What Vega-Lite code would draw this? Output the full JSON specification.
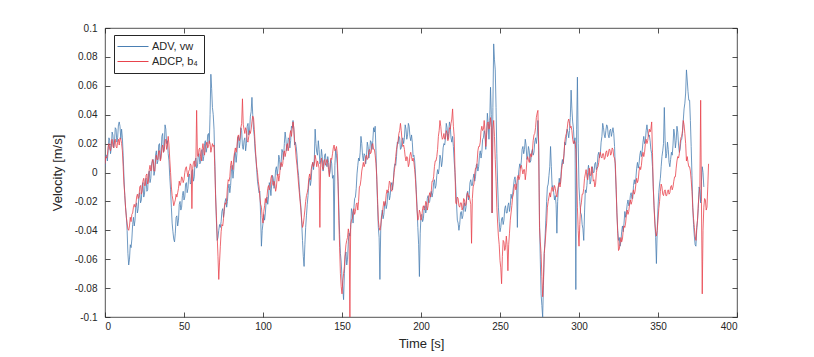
{
  "$schema": "https://vega.github.io/schema/vega-lite/v6.json",
  "autosize": "none",
  "padding": {"left": 105, "top": 28, "right": 77, "bottom": 40},
  "width": 632,
  "height": 289,
  "background": "white",
  "config": {
    "view": {"stroke": "#262626", "strokeWidth": 0.8},
    "font": "Liberation Sans",
    "axis": {
      "grid": false,
      "domain": false,
      "tickColor": "#262626",
      "tickSize": -5,
      "tickWidth": 0.8,
      "labelColor": "#262626",
      "labelFontSize": 10,
      "labelFont": "Liberation Sans",
      "titleColor": "#262626",
      "titleFontSize": 13,
      "titleFont": "Liberation Sans",
      "titleFontWeight": "normal"
    }
  },
  "data": {"values": [
{"t":0,"a":0.004,"b":0.006},{"t":1,"a":0.012,"b":0.010},{"t":2,"a":0.015,"b":0.018},{"t":3,"a":0.022,"b":0.016},{"t":4,"a":0.017,"b":0.020},{"t":5,"a":0.026,"b":0.018},{"t":6,"a":0.021,"b":0.022},{"t":7,"a":0.030,"b":0.018},{"t":8,"a":0.024,"b":0.021},{"t":9,"a":0.035,"b":0.019},
{"t":10,"a":0.023,"b":0.023},{"t":11,"a":0.024,"b":0.015},{"t":12,"a":-0.003,"b":-0.008},{"t":13,"a":-0.024,"b":-0.024},{"t":14,"a":-0.040,"b":-0.035},{"t":15,"a":-0.064,"b":-0.040},{"t":16,"a":-0.050,"b":-0.031},{"t":17,"a":-0.046,"b":-0.029},{"t":18,"a":-0.031,"b":-0.024},{"t":19,"a":-0.033,"b":-0.024},
{"t":20,"a":-0.021,"b":-0.017},{"t":21,"a":-0.025,"b":-0.018},{"t":22,"a":-0.014,"b":-0.010},{"t":23,"a":-0.019,"b":-0.015},{"t":24,"a":-0.007,"b":-0.006},{"t":25,"a":-0.015,"b":-0.009},{"t":26,"a":-0.004,"b":-0.002},{"t":27,"a":-0.012,"b":-0.008},{"t":28,"a":0.001,"b":0.002},{"t":29,"a":-0.004,"b":0.001},
{"t":30,"a":0.008,"b":0.009},{"t":31,"a":-0.002,"b":0.001},{"t":32,"a":0.012,"b":0.008},{"t":33,"a":0.006,"b":0.009},{"t":34,"a":0.019,"b":0.015},{"t":35,"a":0.009,"b":0.008},{"t":36,"a":0.025,"b":0.017},{"t":37,"a":0.014,"b":0.014},{"t":38,"a":0.033,"b":0.022},{"t":39,"a":0.020,"b":0.016},
{"t":40,"a":0.013,"b":0.025},{"t":41,"a":-0.003,"b":0.009},{"t":42,"a":-0.024,"b":-0.010},{"t":43,"a":-0.041,"b":-0.019},{"t":44,"a":-0.048,"b":-0.021},{"t":45,"a":-0.031,"b":-0.015},{"t":46,"a":-0.037,"b":-0.014},{"t":47,"a":-0.022,"b":-0.006},{"t":48,"a":-0.026,"b":-0.007},{"t":49,"a":-0.016,"b":-0.004},
{"t":50,"a":-0.019,"b":-0.005},{"t":51,"a":-0.008,"b":0.003},{"t":52,"a":-0.014,"b":0.000},{"t":53,"a":-0.002,"b":0.001},{"t":54,"a":-0.008,"b":0.006},{"t":55,"a":0.001,"b":-0.025},{"t":56,"a":-0.006,"b":0.007},{"t":57,"a":0.008,"b":0.004},{"t":58,"a":0.003,"b":0.043},{"t":59,"a":0.012,"b":0.011},
{"t":60,"a":0.006,"b":0.017},{"t":61,"a":0.015,"b":0.008},{"t":62,"a":0.008,"b":0.020},{"t":63,"a":0.020,"b":0.012},{"t":64,"a":0.014,"b":0.019},{"t":65,"a":0.026,"b":0.017},{"t":66,"a":0.020,"b":0.022},{"t":67,"a":0.068,"b":0.014},{"t":68,"a":0.045,"b":0.020},{"t":69,"a":0.030,"b":0.019},
{"t":70,"a":-0.015,"b":-0.017},{"t":71,"a":-0.047,"b":-0.044},{"t":72,"a":-0.040,"b":-0.074},{"t":73,"a":-0.038,"b":-0.051},{"t":74,"a":-0.027,"b":-0.036},{"t":75,"a":-0.031,"b":-0.032},{"t":76,"a":-0.020,"b":-0.021},{"t":77,"a":-0.024,"b":-0.019},{"t":78,"a":-0.011,"b":-0.005},{"t":79,"a":-0.014,"b":-0.003},
{"t":80,"a":0.001,"b":0.008},{"t":81,"a":-0.004,"b":0.002},{"t":82,"a":0.013,"b":0.014},{"t":83,"a":0.007,"b":0.014},{"t":84,"a":0.024,"b":0.025},{"t":85,"a":0.017,"b":0.022},{"t":86,"a":0.031,"b":0.031},{"t":87,"a":0.018,"b":0.051},{"t":88,"a":0.022,"b":0.030},{"t":89,"a":0.015,"b":0.031},
{"t":90,"a":0.032,"b":0.022},{"t":91,"a":0.026,"b":0.025},{"t":92,"a":0.039,"b":0.027},{"t":93,"a":0.052,"b":0.035},{"t":94,"a":0.030,"b":0.038},{"t":95,"a":0.015,"b":0.020},{"t":96,"a":0.002,"b":0.004},{"t":97,"a":-0.010,"b":-0.006},{"t":98,"a":-0.013,"b":-0.017},{"t":99,"a":-0.051,"b":-0.024},
{"t":100,"a":-0.035,"b":-0.035},{"t":101,"a":-0.033,"b":-0.023},{"t":102,"a":-0.020,"b":-0.021},{"t":103,"a":-0.022,"b":-0.011},{"t":104,"a":-0.007,"b":-0.012},{"t":105,"a":-0.016,"b":-0.004},{"t":106,"a":-0.002,"b":-0.007},{"t":107,"a":-0.011,"b":-0.006},{"t":108,"a":0.002,"b":-0.013},{"t":109,"a":-0.002,"b":-0.003},
{"t":110,"a":0.012,"b":-0.006},{"t":111,"a":0.002,"b":0.005},{"t":112,"a":0.016,"b":0.004},{"t":113,"a":0.009,"b":0.013},{"t":114,"a":0.028,"b":0.011},{"t":115,"a":0.015,"b":0.019},{"t":116,"a":0.024,"b":0.015},{"t":117,"a":0.017,"b":0.026},{"t":118,"a":0.032,"b":0.025},{"t":119,"a":0.036,"b":0.035},
{"t":120,"a":0.019,"b":0.022},{"t":121,"a":0.018,"b":0.010},{"t":122,"a":0.003,"b":-0.001},{"t":123,"a":-0.010,"b":-0.014},{"t":124,"a":-0.024,"b":-0.026},{"t":125,"a":-0.047,"b":-0.038},{"t":126,"a":-0.065,"b":-0.031},{"t":127,"a":-0.038,"b":-0.020},{"t":128,"a":-0.022,"b":-0.014},{"t":129,"a":-0.007,"b":-0.004},
{"t":130,"a":-0.009,"b":-0.005},{"t":131,"a":0.004,"b":0.005},{"t":132,"a":0.002,"b":0.004},{"t":133,"a":0.030,"b":0.012},{"t":134,"a":0.014,"b":0.004},{"t":135,"a":0.022,"b":0.006},{"t":136,"a":0.006,"b":-0.038},{"t":137,"a":0.016,"b":0.010},{"t":138,"a":0.001,"b":0.002},{"t":139,"a":0.012,"b":0.009},
{"t":140,"a":0.006,"b":0.007},{"t":141,"a":0.011,"b":0.006},{"t":142,"a":-0.002,"b":-0.003},{"t":143,"a":0.009,"b":0.010},{"t":144,"a":-0.004,"b":0.013},{"t":145,"a":-0.047,"b":0.019},{"t":146,"a":0.016,"b":0.016},{"t":147,"a":0.006,"b":0.013},{"t":148,"a":-0.024,"b":-0.033},{"t":149,"a":-0.056,"b":-0.070},
{"t":150,"a":-0.073,"b":-0.084},{"t":151,"a":-0.088,"b":-0.070},{"t":152,"a":-0.058,"b":-0.056},{"t":153,"a":-0.064,"b":-0.047},{"t":154,"a":-0.048,"b":-0.039},{"t":155,"a":-0.044,"b":-0.100},{"t":156,"a":-0.025,"b":-0.033},{"t":157,"a":-0.035,"b":-0.028},{"t":158,"a":-0.018,"b":-0.029},{"t":159,"a":-0.011,"b":-0.022},
{"t":160,"a":0.005,"b":-0.026},{"t":161,"a":0.008,"b":-0.010},{"t":162,"a":0.025,"b":-0.005},{"t":163,"a":0.012,"b":0.004},{"t":164,"a":0.013,"b":0.004},{"t":165,"a":0.006,"b":0.011},{"t":166,"a":0.021,"b":0.009},{"t":167,"a":0.010,"b":0.015},{"t":168,"a":0.022,"b":0.013},{"t":169,"a":0.016,"b":0.019},
{"t":170,"a":0.031,"b":0.016},{"t":171,"a":0.032,"b":0.012},{"t":172,"a":-0.005,"b":-0.003},{"t":173,"a":-0.038,"b":-0.033},{"t":174,"a":-0.074,"b":-0.040},{"t":175,"a":-0.030,"b":-0.031},{"t":176,"a":-0.032,"b":-0.024},{"t":177,"a":-0.022,"b":-0.023},{"t":178,"a":-0.025,"b":-0.015},{"t":179,"a":-0.014,"b":-0.014},
{"t":180,"a":-0.019,"b":-0.006},{"t":181,"a":-0.009,"b":-0.012},{"t":182,"a":-0.012,"b":-0.010},{"t":183,"a":0.003,"b":0.000},{"t":184,"a":0.005,"b":0.011},{"t":185,"a":0.021,"b":0.019},{"t":186,"a":0.025,"b":0.027},{"t":187,"a":0.016,"b":0.034},{"t":188,"a":0.022,"b":0.022},{"t":189,"a":0.020,"b":0.019},
{"t":190,"a":0.033,"b":0.011},{"t":191,"a":0.023,"b":0.011},{"t":192,"a":0.034,"b":0.004},{"t":193,"a":0.025,"b":0.012},{"t":194,"a":0.026,"b":0.011},{"t":195,"a":0.011,"b":0.010},{"t":196,"a":0.008,"b":0.002},{"t":197,"a":-0.012,"b":-0.015},{"t":198,"a":-0.038,"b":-0.033},{"t":199,"a":-0.072,"b":-0.026},
{"t":200,"a":-0.030,"b":-0.033},{"t":201,"a":-0.034,"b":-0.025},{"t":202,"a":-0.025,"b":-0.026},{"t":203,"a":-0.028,"b":-0.020},{"t":204,"a":-0.018,"b":-0.026},{"t":205,"a":-0.021,"b":-0.017},{"t":206,"a":-0.016,"b":-0.017},{"t":207,"a":-0.017,"b":-0.006},{"t":208,"a":-0.007,"b":-0.003},{"t":209,"a":-0.011,"b":0.008},
{"t":210,"a":-0.002,"b":0.011},{"t":211,"a":-0.001,"b":0.025},{"t":212,"a":0.012,"b":0.036},{"t":213,"a":0.004,"b":0.026},{"t":214,"a":0.017,"b":0.024},{"t":215,"a":0.019,"b":0.023},{"t":216,"a":0.034,"b":0.029},{"t":217,"a":0.023,"b":0.022},{"t":218,"a":0.035,"b":0.031},{"t":219,"a":0.024,"b":0.034},
{"t":220,"a":0.025,"b":0.044},{"t":221,"a":0.008,"b":0.025},{"t":222,"a":-0.010,"b":-0.021},{"t":223,"a":-0.033,"b":-0.017},{"t":224,"a":-0.040,"b":-0.023},{"t":225,"a":-0.028,"b":-0.021},{"t":226,"a":-0.032,"b":-0.026},{"t":227,"a":-0.023,"b":-0.018},{"t":228,"a":-0.027,"b":-0.023},{"t":229,"a":-0.015,"b":-0.016},
{"t":230,"a":-0.019,"b":-0.017},{"t":231,"a":-0.007,"b":-0.019},{"t":232,"a":-0.009,"b":-0.049},{"t":233,"a":-0.004,"b":-0.010},{"t":234,"a":-0.006,"b":-0.001},{"t":235,"a":0.005,"b":0.003},{"t":236,"a":0.001,"b":0.015},{"t":237,"a":0.012,"b":0.018},{"t":238,"a":0.010,"b":0.029},{"t":239,"a":0.023,"b":0.029},
{"t":240,"a":0.029,"b":0.036},{"t":241,"a":0.016,"b":0.018},{"t":242,"a":0.041,"b":0.034},{"t":243,"a":0.023,"b":0.030},{"t":244,"a":0.059,"b":0.038},{"t":245,"a":-0.028,"b":-0.028},{"t":246,"a":0.089,"b":0.036},{"t":247,"a":0.071,"b":0.009},{"t":248,"a":0.013,"b":-0.024},{"t":249,"a":-0.024,"b":-0.044},
{"t":250,"a":-0.041,"b":-0.061},{"t":251,"a":-0.032,"b":-0.077},{"t":252,"a":-0.036,"b":-0.047},{"t":253,"a":-0.025,"b":-0.054},{"t":254,"a":-0.028,"b":-0.044},{"t":255,"a":-0.023,"b":-0.068},{"t":256,"a":-0.027,"b":-0.042},{"t":257,"a":-0.015,"b":-0.028},{"t":258,"a":-0.015,"b":-0.017},{"t":259,"a":-0.005,"b":-0.010},
{"t":260,"a":-0.008,"b":-0.012},{"t":261,"a":-0.038,"b":-0.004},{"t":262,"a":0.002,"b":-0.005},{"t":263,"a":0.003,"b":0.004},{"t":264,"a":0.016,"b":0.002},{"t":265,"a":0.013,"b":0.002},{"t":266,"a":0.023,"b":-0.005},{"t":267,"a":0.009,"b":0.008},{"t":268,"a":0.018,"b":0.009},{"t":269,"a":0.007,"b":0.010},
{"t":270,"a":0.014,"b":0.011},{"t":271,"a":0.012,"b":0.022},{"t":272,"a":0.021,"b":0.027},{"t":273,"a":0.020,"b":0.038},{"t":274,"a":0.036,"b":0.043},{"t":275,"a":-0.033,"b":-0.038},{"t":276,"a":-0.084,"b":-0.056},{"t":277,"a":-0.100,"b":-0.086},{"t":278,"a":-0.056,"b":-0.056},{"t":279,"a":-0.033,"b":-0.042},
{"t":280,"a":-0.010,"b":-0.024},{"t":281,"a":-0.002,"b":-0.017},{"t":282,"a":0.018,"b":-0.017},{"t":283,"a":-0.010,"b":-0.010},{"t":284,"a":-0.014,"b":-0.012},{"t":285,"a":-0.016,"b":-0.011},{"t":286,"a":-0.042,"b":-0.017},{"t":287,"a":-0.010,"b":-0.009},{"t":288,"a":-0.008,"b":-0.010},{"t":289,"a":0.005,"b":0.002},
{"t":290,"a":0.006,"b":0.007},{"t":291,"a":0.021,"b":0.021},{"t":292,"a":0.024,"b":0.027},{"t":293,"a":0.028,"b":0.035},{"t":294,"a":0.029,"b":0.034},{"t":295,"a":0.057,"b":0.032},{"t":296,"a":0.035,"b":0.023},{"t":297,"a":0.020,"b":0.022},{"t":298,"a":-0.081,"b":0.016},{"t":299,"a":0.066,"b":-0.024},
{"t":300,"a":-0.010,"b":-0.051},{"t":301,"a":-0.028,"b":-0.024},{"t":302,"a":-0.036,"b":-0.015},{"t":303,"a":-0.047,"b":-0.011},{"t":304,"a":-0.012,"b":-0.001},{"t":305,"a":-0.009,"b":-0.003},{"t":306,"a":0.005,"b":-0.001},{"t":307,"a":-0.008,"b":-0.002},{"t":308,"a":0.001,"b":0.004},{"t":309,"a":0.000,"b":-0.006},
{"t":310,"a":0.006,"b":-0.010},{"t":311,"a":0.002,"b":0.000},{"t":312,"a":0.012,"b":0.004},{"t":313,"a":0.010,"b":0.012},{"t":314,"a":0.021,"b":0.011},{"t":315,"a":0.034,"b":0.013},{"t":316,"a":0.026,"b":0.009},{"t":317,"a":0.029,"b":0.014},{"t":318,"a":0.032,"b":0.011},{"t":319,"a":0.024,"b":0.016},
{"t":320,"a":0.030,"b":0.012},{"t":321,"a":0.028,"b":0.017},{"t":322,"a":0.027,"b":0.011},{"t":323,"a":0.002,"b":0.006},{"t":324,"a":-0.028,"b":-0.028},{"t":325,"a":-0.047,"b":-0.054},{"t":326,"a":-0.051,"b":-0.049},{"t":327,"a":-0.041,"b":-0.048},{"t":328,"a":-0.041,"b":-0.040},{"t":329,"a":-0.027,"b":-0.038},
{"t":330,"a":-0.027,"b":-0.029},{"t":331,"a":-0.019,"b":-0.029},{"t":332,"a":-0.022,"b":-0.022},{"t":333,"a":-0.014,"b":-0.022},{"t":334,"a":-0.018,"b":-0.015},{"t":335,"a":-0.005,"b":-0.015},{"t":336,"a":-0.004,"b":-0.008},{"t":337,"a":0.007,"b":-0.007},{"t":338,"a":0.006,"b":0.001},{"t":339,"a":0.015,"b":0.002},
{"t":340,"a":0.015,"b":0.011},{"t":341,"a":0.025,"b":0.011},{"t":342,"a":0.022,"b":0.020},{"t":343,"a":0.033,"b":0.020},{"t":344,"a":0.025,"b":0.027},{"t":345,"a":0.022,"b":0.028},{"t":346,"a":0.013,"b":0.035},{"t":347,"a":-0.010,"b":-0.010},{"t":348,"a":-0.033,"b":-0.035},{"t":349,"a":-0.063,"b":-0.044},
{"t":350,"a":-0.024,"b":-0.033},{"t":351,"a":-0.008,"b":-0.020},{"t":352,"a":0.004,"b":-0.008},{"t":353,"a":0.015,"b":-0.015},{"t":354,"a":0.045,"b":-0.013},{"t":355,"a":0.010,"b":-0.016},{"t":356,"a":0.021,"b":-0.013},{"t":357,"a":0.007,"b":-0.015},{"t":358,"a":0.009,"b":-0.010},{"t":359,"a":0.012,"b":-0.012},
{"t":360,"a":0.030,"b":-0.006},{"t":361,"a":0.017,"b":-0.003},{"t":362,"a":0.032,"b":0.008},{"t":363,"a":0.019,"b":0.010},{"t":364,"a":0.016,"b":0.020},{"t":365,"a":0.023,"b":0.025},{"t":366,"a":0.036,"b":0.036},{"t":367,"a":0.048,"b":0.027},{"t":368,"a":0.071,"b":0.008},{"t":369,"a":0.056,"b":0.007},
{"t":370,"a":0.050,"b":0.004},{"t":371,"a":0.018,"b":-0.005},{"t":372,"a":-0.024,"b":-0.024},{"t":373,"a":-0.044,"b":-0.038},{"t":374,"a":-0.051,"b":-0.047},{"t":375,"a":-0.033,"b":-0.033},{"t":376,"a":-0.010,"b":-0.015},{"t":377,"a":-0.021,"b":0.050},{"t":378,"a":0.004,"b":-0.084},{"t":379,"a":-0.010,"b":-0.024},
{"t":380,"b":-0.019},{"t":381,"b":-0.024},{"t":382,"b":0.006},
{"t":0.5,"a":0.012,"b":0.011},{"t":1.5,"a":0.008,"b":0.012},{"t":2.5,"a":0.024,"b":0.020},{"t":3.5,"a":0.013,"b":0.015},{"t":4.5,"a":0.028,"b":0.023},{"t":5.5,"a":0.017,"b":0.017},{"t":6.5,"a":0.031,"b":0.023},{"t":7.5,"a":0.021,"b":0.017},{"t":8.5,"a":0.033,"b":0.023},{"t":9.5,"a":0.032,"b":0.024},
{"t":10.5,"a":0.030,"b":0.020},{"t":11.5,"a":0.012,"b":0.004},{"t":12.5,"a":-0.016,"b":-0.015},{"t":13.5,"a":-0.030,"b":-0.031},{"t":14.5,"a":-0.056,"b":-0.039},{"t":15.5,"a":-0.060,"b":-0.037},{"t":16.5,"a":-0.052,"b":-0.034},{"t":17.5,"a":-0.036,"b":-0.028},{"t":18.5,"a":-0.037,"b":-0.022},{"t":19.5,"a":-0.023,"b":-0.023},
{"t":20.5,"a":-0.028,"b":-0.015},{"t":21.5,"a":-0.015,"b":-0.017},{"t":22.5,"a":-0.021,"b":-0.009},{"t":23.5,"a":-0.009,"b":-0.013},{"t":24.5,"a":-0.017,"b":-0.004},{"t":25.5,"a":-0.005,"b":-0.009},{"t":26.5,"a":-0.013,"b":-0.001},{"t":27.5,"a":-0.001,"b":-0.006},{"t":28.5,"a":-0.007,"b":0.005},{"t":29.5,"a":0.006,"b":0.002},
{"t":30.5,"a":0.009,"b":0.008},{"t":31.5,"a":0.001,"b":0.001},{"t":32.5,"a":0.015,"b":0.012},{"t":33.5,"a":0.008,"b":0.009},{"t":34.5,"a":0.020,"b":0.015},{"t":35.5,"a":0.013,"b":0.010},{"t":36.5,"a":0.027,"b":0.019},{"t":37.5,"a":0.018,"b":0.015},{"t":38.5,"a":0.030,"b":0.023},{"t":39.5,"a":0.022,"b":0.019},
{"t":40.5,"a":0.008,"b":0.019},{"t":41.5,"a":-0.012,"b":0.000},{"t":42.5,"a":-0.035,"b":-0.016},{"t":43.5,"a":-0.046,"b":-0.023},{"t":44.5,"a":-0.042,"b":-0.019},{"t":45.5,"a":-0.030,"b":-0.017},{"t":46.5,"a":-0.033,"b":-0.011},{"t":47.5,"a":-0.020,"b":-0.009},{"t":48.5,"a":-0.024,"b":-0.003},{"t":49.5,"a":-0.013,"b":-0.007},
{"t":50.5,"a":-0.017,"b":0.000},{"t":51.5,"a":-0.007,"b":0.004},{"t":52.5,"a":-0.011,"b":-0.003},{"t":53.5,"a":-0.001,"b":0.002},{"t":54.5,"a":-0.007,"b":0.005},{"t":55.5,"a":0.002,"b":0.003},{"t":56.5,"a":-0.003,"b":0.008},{"t":57.5,"a":0.010,"b":0.006},{"t":58.5,"a":0.004,"b":0.012},{"t":59.5,"a":0.013,"b":0.016},
{"t":60.5,"a":0.007,"b":0.011},{"t":61.5,"a":0.016,"b":0.016},{"t":62.5,"a":0.011,"b":0.015},{"t":63.5,"a":0.022,"b":0.018},{"t":64.5,"a":0.017,"b":0.021},{"t":65.5,"a":0.027,"b":0.018},{"t":66.5,"a":0.040,"b":0.020},{"t":67.5,"a":0.058,"b":0.017},{"t":68.5,"a":0.040,"b":0.018},{"t":69.5,"a":0.008,"b":0.004},
{"t":70.5,"a":-0.033,"b":-0.030},{"t":71.5,"a":-0.045,"b":-0.058},{"t":72.5,"a":-0.036,"b":-0.062},{"t":73.5,"a":-0.034,"b":-0.041},{"t":74.5,"a":-0.025,"b":-0.037},{"t":75.5,"a":-0.027,"b":-0.024},{"t":76.5,"a":-0.018,"b":-0.022},{"t":77.5,"a":-0.020,"b":-0.010},{"t":78.5,"a":-0.008,"b":-0.006},{"t":79.5,"a":-0.009,"b":0.005},
{"t":80.5,"a":0.005,"b":0.003},{"t":81.5,"a":0.002,"b":0.010},{"t":82.5,"a":0.014,"b":0.017},{"t":83.5,"a":0.013,"b":0.018},{"t":84.5,"a":0.025,"b":0.026},{"t":85.5,"a":0.021,"b":0.024},{"t":86.5,"a":0.029,"b":0.034},{"t":87.5,"a":0.016,"b":0.033},{"t":88.5,"a":0.024,"b":0.027},{"t":89.5,"a":0.020,"b":0.029},
{"t":90.5,"a":0.034,"b":0.021},{"t":91.5,"a":0.029,"b":0.029},{"t":92.5,"a":0.042,"b":0.030},{"t":93.5,"a":0.040,"b":0.039},{"t":94.5,"a":0.025,"b":0.030},{"t":95.5,"a":0.010,"b":0.011},{"t":96.5,"a":-0.006,"b":0.000},{"t":97.5,"a":-0.014,"b":-0.010},{"t":98.5,"a":-0.030,"b":-0.022},{"t":99.5,"a":-0.040,"b":-0.031},
{"t":100.5,"a":-0.029,"b":-0.027},{"t":101.5,"a":-0.028,"b":-0.018},{"t":102.5,"a":-0.017,"b":-0.017},{"t":103.5,"a":-0.017,"b":-0.009},{"t":104.5,"a":-0.010,"b":-0.010},{"t":105.5,"a":-0.008,"b":-0.002},{"t":106.5,"a":-0.004,"b":-0.009},{"t":107.5,"a":-0.006,"b":-0.008},{"t":108.5,"a":0.004,"b":-0.010},{"t":109.5,"a":0.003,"b":-0.001},
{"t":110.5,"a":0.009,"b":-0.002},{"t":111.5,"a":0.007,"b":0.007},{"t":112.5,"a":0.014,"b":0.006},{"t":113.5,"a":0.020,"b":0.015},{"t":114.5,"a":0.023,"b":0.014},{"t":115.5,"a":0.018,"b":0.020},{"t":116.5,"a":0.023,"b":0.019},{"t":117.5,"a":0.022,"b":0.029},{"t":118.5,"a":0.031,"b":0.030},{"t":119.5,"a":0.030,"b":0.031},
{"t":120.5,"a":0.021,"b":0.017},{"t":121.5,"a":0.012,"b":0.005},{"t":122.5,"a":-0.002,"b":-0.008},{"t":123.5,"a":-0.018,"b":-0.020},{"t":124.5,"a":-0.035,"b":-0.033},{"t":125.5,"a":-0.058,"b":-0.036},{"t":126.5,"a":-0.050,"b":-0.026},{"t":127.5,"a":-0.030,"b":-0.016},{"t":128.5,"a":-0.016,"b":-0.011},{"t":129.5,"a":-0.004,"b":-0.001},
{"t":130.5,"a":-0.005,"b":0.002},{"t":131.5,"a":0.007,"b":0.007},{"t":132.5,"a":0.010,"b":0.006},{"t":133.5,"a":0.020,"b":0.009},{"t":134.5,"a":0.012,"b":0.008},{"t":135.5,"a":0.016,"b":0.003},{"t":136.5,"a":0.008,"b":0.006},{"t":137.5,"a":0.011,"b":0.004},{"t":138.5,"a":0.004,"b":0.008},{"t":139.5,"a":0.013,"b":0.005},
{"t":140.5,"a":0.004,"b":0.009},{"t":141.5,"a":0.007,"b":0.002},{"t":142.5,"a":0.001,"b":0.006},{"t":143.5,"a":0.006,"b":0.009},{"t":144.5,"a":-0.002,"b":0.017},{"t":145.5,"a":0.005,"b":0.015},{"t":146.5,"a":0.012,"b":0.018},{"t":147.5,"a":-0.006,"b":-0.008},{"t":148.5,"a":-0.043,"b":-0.052},{"t":149.5,"a":-0.062,"b":-0.079},
{"t":150.5,"a":-0.080,"b":-0.075},{"t":151.5,"a":-0.070,"b":-0.065},{"t":152.5,"a":-0.055,"b":-0.050},{"t":153.5,"a":-0.060,"b":-0.045},{"t":154.5,"a":-0.042,"b":-0.043},{"t":155.5,"a":-0.038,"b":-0.036},{"t":156.5,"a":-0.027,"b":-0.032},{"t":157.5,"a":-0.025,"b":-0.025},{"t":158.5,"a":-0.017,"b":-0.027},{"t":159.5,"a":-0.001,"b":-0.021},
{"t":160.5,"a":0.010,"b":-0.020},{"t":161.5,"a":0.014,"b":-0.009},{"t":162.5,"a":0.020,"b":0.001},{"t":163.5,"a":0.008,"b":0.007},{"t":164.5,"a":0.012,"b":0.006},{"t":165.5,"a":0.011,"b":0.012},{"t":166.5,"a":0.018,"b":0.010},{"t":167.5,"a":0.014,"b":0.016},{"t":168.5,"a":0.021,"b":0.014},{"t":169.5,"a":0.022,"b":0.020},
{"t":170.5,"a":0.028,"b":0.016},{"t":171.5,"a":0.015,"b":0.006},{"t":172.5,"a":-0.022,"b":-0.018},{"t":173.5,"a":-0.045,"b":-0.038},{"t":174.5,"a":-0.040,"b":-0.037},{"t":175.5,"a":-0.026,"b":-0.029},{"t":176.5,"a":-0.029,"b":-0.020},{"t":177.5,"a":-0.020,"b":-0.021},{"t":178.5,"a":-0.022,"b":-0.012},{"t":179.5,"a":-0.013,"b":-0.011},
{"t":180.5,"a":-0.016,"b":-0.007},{"t":181.5,"a":-0.007,"b":-0.013},{"t":182.5,"a":-0.006,"b":-0.006},{"t":183.5,"a":0.006,"b":0.004},{"t":184.5,"a":0.011,"b":0.016},{"t":185.5,"a":0.020,"b":0.022},{"t":186.5,"a":0.024,"b":0.029},{"t":187.5,"a":0.017,"b":0.029},{"t":188.5,"a":0.024,"b":0.018},{"t":189.5,"a":0.024,"b":0.016},
{"t":190.5,"a":0.030,"b":0.008},{"t":191.5,"a":0.026,"b":0.010},{"t":192.5,"a":0.032,"b":0.006},{"t":193.5,"a":0.022,"b":0.014},{"t":194.5,"a":0.021,"b":0.008},{"t":195.5,"a":0.012,"b":0.007},{"t":196.5,"a":-0.001,"b":-0.005},{"t":197.5,"a":-0.024,"b":-0.026},{"t":198.5,"a":-0.050,"b":-0.031},{"t":199.5,"a":-0.042,"b":-0.028},
{"t":200.5,"a":-0.029,"b":-0.031},{"t":201.5,"a":-0.032,"b":-0.023},{"t":202.5,"a":-0.023,"b":-0.025},{"t":203.5,"a":-0.025,"b":-0.021},{"t":204.5,"a":-0.016,"b":-0.023},{"t":205.5,"a":-0.020,"b":-0.014},{"t":206.5,"a":-0.013,"b":-0.013},{"t":207.5,"a":-0.014,"b":-0.006},{"t":208.5,"a":-0.005,"b":0.004},{"t":209.5,"a":-0.009,"b":0.008},
{"t":210.5,"a":0.002,"b":0.016},{"t":211.5,"a":0.003,"b":0.029},{"t":212.5,"a":0.010,"b":0.032},{"t":213.5,"a":0.008,"b":0.023},{"t":214.5,"a":0.020,"b":0.027},{"t":215.5,"a":0.024,"b":0.024},{"t":216.5,"a":0.031,"b":0.027},{"t":217.5,"a":0.027,"b":0.024},{"t":218.5,"a":0.032,"b":0.030},{"t":219.5,"a":0.021,"b":0.037},
{"t":220.5,"a":0.018,"b":0.032},{"t":221.5,"a":0.000,"b":0.002},{"t":222.5,"a":-0.022,"b":-0.022},{"t":223.5,"a":-0.035,"b":-0.018},{"t":224.5,"a":-0.036,"b":-0.024},{"t":225.5,"a":-0.027,"b":-0.021},{"t":226.5,"a":-0.030,"b":-0.024},{"t":227.5,"a":-0.021,"b":-0.019},{"t":228.5,"a":-0.024,"b":-0.022},{"t":229.5,"a":-0.013,"b":-0.014},
{"t":230.5,"a":-0.015,"b":-0.016},{"t":231.5,"a":-0.005,"b":-0.022},{"t":232.5,"a":-0.009,"b":-0.018},{"t":233.5,"a":-0.001,"b":-0.008},{"t":234.5,"a":-0.003,"b":0.003},{"t":235.5,"a":0.006,"b":0.007},{"t":236.5,"a":0.004,"b":0.018},{"t":237.5,"a":0.015,"b":0.021},{"t":238.5,"a":0.014,"b":0.032},{"t":239.5,"a":0.024,"b":0.030},
{"t":240.5,"a":0.026,"b":0.029},{"t":241.5,"a":0.026,"b":0.026},{"t":242.5,"a":0.034,"b":0.035},{"t":243.5,"a":0.036,"b":0.032},{"t":244.5,"a":0.040,"b":0.031},{"t":245.5,"a":0.045,"b":0.030},{"t":246.5,"a":0.078,"b":0.025},{"t":247.5,"a":0.045,"b":-0.006},{"t":248.5,"a":-0.008,"b":-0.035},{"t":249.5,"a":-0.034,"b":-0.050},
{"t":250.5,"a":-0.038,"b":-0.066},{"t":251.5,"a":-0.031,"b":-0.058},{"t":252.5,"a":-0.033,"b":-0.048},{"t":253.5,"a":-0.023,"b":-0.052},{"t":254.5,"a":-0.028,"b":-0.050},{"t":255.5,"a":-0.021,"b":-0.050},{"t":256.5,"a":-0.023,"b":-0.033},{"t":257.5,"a":-0.018,"b":-0.023},{"t":258.5,"a":-0.010,"b":-0.015},{"t":259.5,"a":-0.003,"b":-0.008},
{"t":260.5,"a":-0.008,"b":-0.010},{"t":261.5,"a":-0.004,"b":-0.002},{"t":262.5,"a":0.006,"b":-0.003},{"t":263.5,"a":0.008,"b":0.005},{"t":264.5,"a":0.018,"b":-0.001},{"t":265.5,"a":0.016,"b":0.002},{"t":266.5,"a":0.019,"b":0.000},{"t":267.5,"a":0.011,"b":0.011},{"t":268.5,"a":0.015,"b":0.007},{"t":269.5,"a":0.008,"b":0.013},
{"t":270.5,"a":0.016,"b":0.015},{"t":271.5,"a":0.014,"b":0.026},{"t":272.5,"a":0.024,"b":0.031},{"t":273.5,"a":0.025,"b":0.041},{"t":274.5,"a":0.020,"b":0.015},{"t":275.5,"a":-0.060,"b":-0.048},{"t":276.5,"a":-0.092,"b":-0.072},{"t":277.5,"a":-0.078,"b":-0.074},{"t":278.5,"a":-0.046,"b":-0.050},{"t":279.5,"a":-0.020,"b":-0.035},
{"t":280.5,"a":-0.008,"b":-0.020},{"t":281.5,"a":0.004,"b":-0.014},{"t":282.5,"a":0.004,"b":-0.012},{"t":283.5,"a":-0.009,"b":-0.013},{"t":284.5,"a":-0.019,"b":-0.009},{"t":285.5,"a":-0.022,"b":-0.015},{"t":286.5,"a":-0.020,"b":-0.012},{"t":287.5,"a":-0.004,"b":-0.007},{"t":288.5,"a":-0.003,"b":-0.006},{"t":289.5,"a":0.009,"b":0.006},
{"t":290.5,"a":0.012,"b":0.013},{"t":291.5,"a":0.019,"b":0.025},{"t":292.5,"a":0.030,"b":0.030},{"t":293.5,"a":0.024,"b":0.037},{"t":294.5,"a":0.038,"b":0.031},{"t":295.5,"a":0.044,"b":0.029},{"t":296.5,"a":0.030,"b":0.020},{"t":297.5,"a":0.024,"b":0.021},{"t":298.5,"a":0.030,"b":0.002},{"t":299.5,"a":0.020,"b":-0.040},
{"t":300.5,"a":-0.020,"b":-0.036},{"t":301.5,"a":-0.029,"b":-0.021},{"t":302.5,"a":-0.039,"b":-0.015},{"t":303.5,"a":-0.028,"b":-0.004},{"t":304.5,"a":-0.014,"b":0.002},{"t":305.5,"a":0.000,"b":-0.005},{"t":306.5,"a":0.001,"b":0.003},{"t":307.5,"a":-0.006,"b":-0.002},{"t":308.5,"a":0.004,"b":0.001},{"t":309.5,"a":0.000,"b":-0.005},
{"t":310.5,"a":0.007,"b":-0.008},{"t":311.5,"a":0.004,"b":0.003},{"t":312.5,"a":0.014,"b":0.007},{"t":313.5,"a":0.013,"b":0.014},{"t":314.5,"a":0.025,"b":0.010},{"t":315.5,"a":0.031,"b":0.013},{"t":316.5,"a":0.024,"b":0.010},{"t":317.5,"a":0.033,"b":0.015},{"t":318.5,"a":0.026,"b":0.012},{"t":319.5,"a":0.029,"b":0.016},
{"t":320.5,"a":0.025,"b":0.013},{"t":321.5,"a":0.031,"b":0.016},{"t":322.5,"a":0.018,"b":0.010},{"t":323.5,"a":-0.012,"b":-0.010},{"t":324.5,"a":-0.040,"b":-0.042},{"t":325.5,"a":-0.045,"b":-0.053},{"t":326.5,"a":-0.048,"b":-0.045},{"t":327.5,"a":-0.037,"b":-0.046},{"t":328.5,"a":-0.035,"b":-0.037},{"t":329.5,"a":-0.031,"b":-0.035},
{"t":330.5,"a":-0.022,"b":-0.026},{"t":331.5,"a":-0.023,"b":-0.027},{"t":332.5,"a":-0.016,"b":-0.019},{"t":333.5,"a":-0.018,"b":-0.020},{"t":334.5,"a":-0.009,"b":-0.012},{"t":335.5,"a":-0.008,"b":-0.013},{"t":336.5,"a":0.003,"b":-0.004},{"t":337.5,"a":0.003,"b":-0.005},{"t":338.5,"a":0.012,"b":0.004},{"t":339.5,"a":0.011,"b":0.005},
{"t":340.5,"a":0.021,"b":0.014},{"t":341.5,"a":0.020,"b":0.014},{"t":342.5,"a":0.029,"b":0.023},{"t":343.5,"a":0.028,"b":0.022},{"t":344.5,"a":0.026,"b":0.030},{"t":345.5,"a":0.016,"b":0.030},{"t":346.5,"a":0.004,"b":0.014},{"t":347.5,"a":-0.023,"b":-0.024},{"t":348.5,"a":-0.045,"b":-0.041},{"t":349.5,"a":-0.040,"b":-0.040},
{"t":350.5,"a":-0.014,"b":-0.025},{"t":351.5,"a":-0.004,"b":-0.013},{"t":352.5,"a":0.011,"b":-0.010},{"t":353.5,"a":0.020,"b":-0.016},{"t":354.5,"a":0.022,"b":-0.012},{"t":355.5,"a":0.013,"b":-0.016},{"t":356.5,"a":0.016,"b":-0.012},{"t":357.5,"a":0.004,"b":-0.014},{"t":358.5,"a":0.014,"b":-0.009},{"t":359.5,"a":0.019,"b":-0.010},
{"t":360.5,"a":0.026,"b":-0.003},{"t":361.5,"a":0.022,"b":0.003},{"t":362.5,"a":0.028,"b":0.011},{"t":363.5,"a":0.014,"b":0.013},{"t":364.5,"a":0.022,"b":0.024},{"t":365.5,"a":0.027,"b":0.029},{"t":366.5,"a":0.044,"b":0.033},{"t":367.5,"a":0.055,"b":0.020},{"t":368.5,"a":0.064,"b":0.011},{"t":369.5,"a":0.050,"b":0.004},
{"t":370.5,"a":0.036,"b":0.001},{"t":371.5,"a":-0.002,"b":-0.013},{"t":372.5,"a":-0.036,"b":-0.032},{"t":373.5,"a":-0.050,"b":-0.044},{"t":374.5,"a":-0.040,"b":-0.038},{"t":375.5,"a":-0.025,"b":-0.022},{"t":376.5,"a":-0.012,"b":-0.010},{"t":377.5,"a":-0.006,"b":-0.020},{"t":378.5,"a":0.000,"b":-0.040},{"t":379.5,"b":-0.018},
{"t":380.5,"b":-0.026},{"t":381.5,"b":-0.010}
  ]},
  "layer": [
    {
      "mark": {"type": "line", "strokeWidth": 0.8, "clip": true},
      "encoding": {
        "x": {"field": "t", "type": "quantitative",
              "scale": {"domain": [0, 400], "nice": false},
              "axis": {"orient": "bottom", "title": "Time [s]", "values": [0,50,100,150,200,250,300,350,400], "labelPadding": 9, "titlePadding": 6}},
        "y": {"field": "a", "type": "quantitative",
              "scale": {"domain": [-0.1, 0.1], "nice": false},
              "axis": {"orient": "left", "title": "Velocity [m/s]",
                       "values": [-0.1,-0.08,-0.06,-0.04,-0.02,0,0.02,0.04,0.06,0.08,0.1],
                       "labelExpr": "replace(format(datum.value, '.2~f'), '\u2212', '-')",
                       "labelPadding": 13, "titlePadding": 10}},
        "color": {"datum": "ADV, vw", "type": "nominal",
                  "scale": {"domain": ["ADV, vw", "ADCP, b\u2084"], "range": ["#4a7fb3", "#e8434c"]},
                  "legend": {"title": null, "orient": "none", "legendX": 9, "legendY": 7,
                             "strokeColor": "#262626", "fillColor": "white", "padding": 6,
                             "symbolType": "M-1.6,0H4.6", "symbolSize": 100, "symbolStrokeWidth": 1,
                             "labelFontSize": 11, "labelFont": "Liberation Sans", "labelColor": "#262626",
                             "labelOffset": 21, "rowPadding": 3, "cornerRadius": 0}}
      }
    },
    {
      "mark": {"type": "line", "strokeWidth": 0.8, "clip": true},
      "encoding": {
        "x": {"field": "t", "type": "quantitative",
              "axis": {"orient": "top", "title": null, "labels": false, "values": [0,50,100,150,200,250,300,350,400]}},
        "y": {"field": "b", "type": "quantitative",
              "axis": {"orient": "right", "title": null, "labels": false,
                       "values": [-0.1,-0.08,-0.06,-0.04,-0.02,0,0.02,0.04,0.06,0.08,0.1]}},
        "color": {"datum": "ADCP, b\u2084", "type": "nominal"}
      }
    }
  ],
  "resolve": {"axis": {"x": "independent", "y": "independent"}}
}
